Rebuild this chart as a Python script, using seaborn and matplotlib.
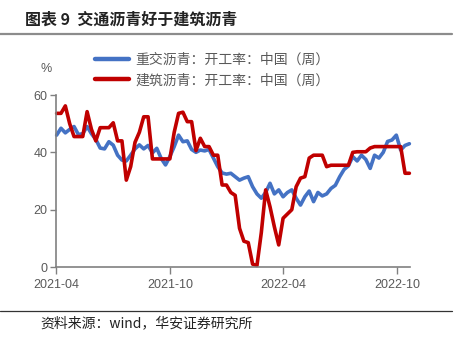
import numpy as np
import pandas as pd
import matplotlib
matplotlib.use("Agg")
import matplotlib.pyplot as plt
import matplotlib.dates as mdates
from matplotlib.lines import Line2D
import seaborn as sns

# ---- data (weekly) ----
start_date = "2021-04-02"
n_weeks = 82
heavy_traffic = [46, 48.4, 46.8, 48, 49, 46.2, 46.5, 49, 46.5, 44.5,
                 41.5, 41.2, 43.7, 42.5, 39, 37.3, 37, 39, 41.2, 42.6,
                 41.2, 42.4, 39.8, 41.4, 37.9, 35.6, 38.5, 42, 46, 43.7,
                 44, 41, 40, 40.8, 40.5, 41, 38, 35, 32.8, 32.4,
                 32.7, 31.5, 30.3, 31, 31.5, 28, 25.5, 24, 26, 29.2,
                 25.5, 26.9, 24.5, 26, 26.9, 24, 21.6, 24.5, 26.5, 22.8,
                 26, 24.8, 25.5, 27.4, 28.5, 31.5, 34, 35.3, 38.5, 37,
                 39, 37.5, 34.4, 39, 38, 40, 43.8, 44.3, 46, 40.8,
                 42.4, 43]
building = [53.6, 53.6, 56.2, 50, 45.5, 45.5, 45.5, 54.2, 48, 44,
            48.6, 48.6, 48.6, 50.3, 44, 44, 30.3, 35, 43.5, 47,
            52.4, 52.4, 37.7, 37.7, 37.7, 37.7, 37.7, 47, 53.6, 54,
            50.7, 50.7, 40.6, 44.9, 42, 42, 39, 39, 28.6, 28.6,
            26, 25, 13.5, 9, 8.5, 1, 0.5, 12, 26.9, 21,
            14, 7.7, 17, 18.5, 20, 28, 31, 31.5, 38, 39,
            39, 39, 35, 35.5, 35.5, 35.5, 35.5, 35.5, 40, 40.2,
            40.2, 40.2, 41.5, 42, 42, 42, 42, 42, 42, 42,
            32.7, 32.7]
series_names = ["重交沥青：开工率：中国（周）", "建筑沥青：开工率：中国（周）"]
series_colors = ["#4472C4", "#C00000"]
x_ticks = ["2021-04-01", "2021-10-01", "2022-04-01", "2022-10-01"]
y_ticks = [0, 20, 40, 60]
title = "图表 9  交通沥青好于建筑沥青"
source = "资料来源：wind，华安证券研究所"

dates = pd.date_range(start_date, periods=n_weeks, freq="7D")
df = pd.concat([
    pd.DataFrame({"date": dates, "value": heavy_traffic, "series": series_names[0]}),
    pd.DataFrame({"date": dates, "value": building, "series": series_names[1]}),
])

sns.set_style("ticks")
plt.rcParams["font.family"] = ["Noto Sans CJK SC", "DejaVu Sans"]

fig = plt.figure(figsize=(4.59, 3.45), dpi=100)
ax = fig.add_axes([56 / 459, 1 - 267 / 345, (410 - 56) / 459, (267 - 95) / 345])

sns.lineplot(data=df, x="date", y="value", hue="series",
             palette=dict(zip(series_names, series_colors)),
             linewidth=2.6, ax=ax, legend=False)
for ln in ax.lines:
    ln.set_clip_on(False)
    ln.set_solid_joinstyle("round")

ax.set_xlim(pd.Timestamp("2021-04-01"), pd.Timestamp("2022-10-22"))
ax.set_ylim(0, 60)
ax.set_xticks(pd.to_datetime(x_ticks))
ax.xaxis.set_major_formatter(mdates.DateFormatter("%Y-%m"))
ax.set_yticks(y_ticks)
ax.set_xlabel("")
ax.set_ylabel("")
for s in ["top", "right"]:
    ax.spines[s].set_visible(False)
for s in ["left", "bottom"]:
    ax.spines[s].set_color("#808080")
    ax.spines[s].set_linewidth(1.2)
ax.tick_params(axis="x", direction="out", length=5, width=1, color="#808080",
               pad=4, labelsize=9, labelcolor="#595959")
ax.tick_params(axis="y", direction="out", length=4, width=1, color="#808080",
               pad=2, labelsize=9, labelcolor="#595959")
for lab in ax.get_xticklabels() + ax.get_yticklabels():
    lab.set_family(["Liberation Sans", "DejaVu Sans"])

fig.text(46 / 459, 1 - 69 / 345, "%", ha="center", va="center", fontsize=9,
         color="#595959", family=["Liberation Sans", "DejaVu Sans"])

handles = [Line2D([], [], color=c, linewidth=3.2) for c in series_colors]
fig.legend(handles, series_names, loc="upper left",
           bbox_to_anchor=(95 / 459, 1 - 53 / 345), frameon=False,
           fontsize=10, labelcolor="#595959", handlelength=2.45,
           handletextpad=0.45, labelspacing=0.45, borderpad=0, borderaxespad=0)

fig.text(25 / 459, 1 - 20 / 345, title, ha="left", va="center",
         fontsize=11.5, fontweight="bold", color="#222222")
fig.add_artist(Line2D([0, 452 / 459], [1 - 34 / 345, 1 - 34 / 345],
                      color="#8c8c8c", linewidth=1.6))
fig.add_artist(Line2D([0, 452 / 459], [1 - 311 / 345, 1 - 311 / 345],
                      color="#333333", linewidth=0.9))
fig.text(40 / 459, 1 - 323 / 345, source, ha="left", va="center",
         fontsize=10, color="#222222")

fig.savefig("out.png", dpi=100)
